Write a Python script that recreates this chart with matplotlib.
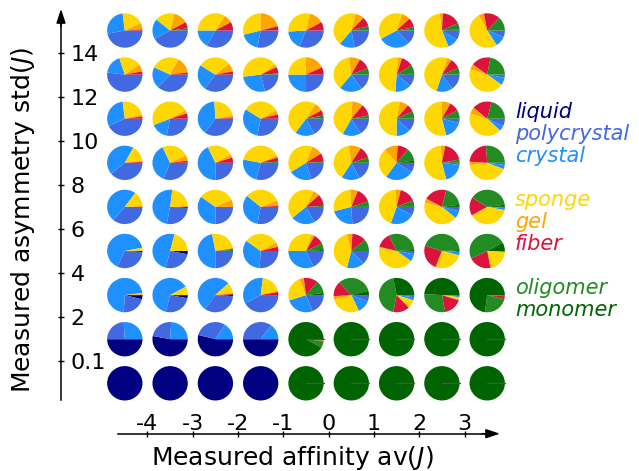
import numpy as np
import matplotlib.pyplot as plt

PHASES = ['liquid', 'polycrystal', 'crystal', 'sponge', 'gel', 'fiber', 'oligomer', 'monomer']
PHASE_COLORS = ['#000080', '#4169e1', '#1e90ff', '#ffd700', '#ffa500', '#dc143c', '#228b22', '#006400']

AFFINITY_TICKS = ['-4', '-3', '-2', '-1', '0', '1', '2', '3']
STD_TICKS = ['0.1', '2', '4', '6', '8', '10', '12', '14']

# phase fractions (liquid .. monomer), one pie per affinity bin, one list per std bin
STD_BELOW_01 = [[1, 0, 0, 0, 0, 0, 0, 0]] * 4 + [[0, 0, 0, 0, 0, 0, 0, 1]] * 5

STD_01_2 = [
    [.50, .24, .26, 0, 0, 0, 0, 0],
    [.53, .23, .24, 0, 0, 0, 0, 0],
    [.54, .30, .16, 0, 0, 0, 0, 0],
    [.50, .35, .15, 0, 0, 0, 0, 0],
    [0, 0, 0, .01, .005, .005, .06, .92],
    [0, 0, 0, 0, 0, 0, 0, 1],
    [0, 0, 0, 0, 0, 0, 0, 1],
    [0, 0, 0, 0, 0, 0, 0, 1],
    [0, 0, 0, 0, 0, 0, 0, 1],
]

STD_2_4 = [
    [.04, .22, .72, .01, .01, 0, 0, 0],
    [.03, .26, .63, .08, 0, 0, 0, 0],
    [.01, .34, .53, .10, .01, .01, 0, 0],
    [0, .42, .35, .19, .01, .03, 0, 0],
    [0, .19, .26, .24, .04, .13, .12, .02],
    [0, .06, .12, .28, .03, .14, .33, .04],
    [0, .02, .03, .07, .01, .15, .44, .28],
    [0, .01, .01, .02, .01, .17, .29, .49],
    [0, .01, 0, 0, 0, .03, .23, .73],
]

STD_4_6 = [
    [.01, .31, .65, .03, 0, 0, 0, 0],
    [.03, .26, .50, .21, 0, 0, 0, 0],
    [0, .25, .47, .25, .01, .01, .01, 0],
    [0, .26, .34, .32, .04, .04, 0, 0],
    [0, .18, .32, .30, .03, .10, .06, .01],
    [0, .13, .16, .42, .05, .13, .11, 0],
    [0, .03, .07, .43, .01, .14, .31, .01],
    [0, .01, .03, .26, .01, .24, .44, .01],
    [0, 0, .01, .20, .01, .21, .49, .08],
]

STD_6_8 = [
    [0, .36, .49, .14, .01, 0, 0, 0],
    [.01, .27, .49, .22, .01, 0, 0, 0],
    [0, .25, .35, .33, .07, 0, 0, 0],
    [0, .28, .33, .33, .05, .01, 0, 0],
    [0, .17, .22, .43, .06, .11, .01, 0],
    [0, .24, .22, .28, .07, .14, .05, 0],
    [0, .08, .22, .43, .05, .15, .06, 0],
    [0, .04, .07, .43, .04, .21, .19, .02],
    [0, .01, .02, .38, .01, .17, .39, .02],
]

STD_8_10 = [
    [0, .39, .44, .15, .01, .01, 0, 0],
    [0, .31, .37, .25, .05, .02, 0, 0],
    [0, .25, .43, .24, .03, .05, 0, 0],
    [0, .29, .24, .40, .02, .04, .01, 0],
    [0, .20, .21, .40, .10, .08, .01, 0],
    [0, .17, .17, .39, .11, .11, .05, 0],
    [0, .09, .26, .29, .12, .10, .12, .02],
    [0, .02, .19, .53, .04, .19, .03, 0],
    [0, .02, .04, .42, .03, .23, .26, 0],
]

STD_10_12 = [
    [0, .43, .30, .23, .02, .02, 0, 0],
    [0, .28, .16, .48, .03, .05, 0, 0],
    [0, .35, .39, .23, .02, .01, 0, 0],
    [0, .28, .31, .33, .04, .04, 0, 0],
    [0, .17, .18, .49, .08, .05, .03, 0],
    [0, .16, .17, .43, .10, .11, .03, 0],
    [0, .12, .13, .53, .08, .07, .07, 0],
    [0, .04, .17, .54, .08, .09, .08, 0],
    [0, .07, .05, .43, .06, .18, .21, 0],
]

STD_12_14 = [
    [0, .52, .18, .20, .07, .03, 0, 0],
    [0, .37, .20, .26, .15, .02, 0, 0],
    [0, .35, .24, .30, .08, .03, 0, 0],
    [0, .21, .27, .42, .03, .06, .01, 0],
    [0, .25, .25, .25, .18, .07, 0, 0],
    [0, .15, .21, .37, .10, .11, .06, 0],
    [0, .11, .15, .50, .04, .11, .08, .01],
    [0, .15, .15, .50, .04, .10, .06, 0],
    [0, .03, .07, .45, .05, .18, .22, 0],
]

STD_ABOVE_14 = [
    [0, .47, .26, .20, .06, .01, 0, 0],
    [0, .42, .19, .18, .13, .06, .02, 0],
    [0, .33, .17, .34, .08, .08, 0, 0],
    [0, .28, .18, .29, .21, .04, 0, 0],
    [0, .31, .18, .30, .13, .08, 0, 0],
    [0, .22, .14, .43, .08, .09, .04, 0],
    [0, .13, .29, .38, .08, .09, .03, 0],
    [0, .09, .10, .54, .03, .17, .06, .01],
    [0, .06, .10, .51, .05, .15, .13, 0],
]

GRID = [STD_BELOW_01, STD_01_2, STD_2_4, STD_4_6, STD_6_8,
        STD_8_10, STD_10_12, STD_12_14, STD_ABOVE_14]

# layout in pixels
W, H = 639, 471
COL_PX, ROW_PX = 45.3, 44.1
X0_PX, Y0_PX = 124.8, 87.7      # centre of the bottom-left pie (from left / from bottom)
RADIUS = 0.39


def px_x(px):
    return (px - X0_PX) / COL_PX


def px_y(py_top):
    return (H - py_top - Y0_PX) / ROW_PX


fig = plt.figure(figsize=(W / 100, H / 100), dpi=100)
ax = fig.add_axes([0, 0, 1, 1])

for j, row in enumerate(GRID):
    for i, frac in enumerate(row):
        vals = [v for v in frac if v > 0]
        cols = [c for v, c in zip(frac, PHASE_COLORS) if v > 0]
        ax.pie(vals, colors=cols, center=(i, j), radius=RADIUS, startangle=0,
               counterclock=False, frame=True,
               wedgeprops=dict(linewidth=0))
        if frac[-1] >= 0.9:
            ax.plot([i, i + RADIUS], [j, j], color='#505050', lw=0.9, zorder=5)

ax.set_aspect('auto')
ax.set_xlim(px_x(0), px_x(W))
ax.set_ylim(px_y(H), px_y(0))
ax.patch.set_alpha(0)

# axes with arrows
x_axis_y = px_y(433.7)
y_axis_x = px_x(61)
x_start, x_tip = px_x(118), px_x(500)
y_start, y_tip = px_y(400), px_y(9)

for s in ['left', 'bottom']:
    ax.spines[s].set_visible(False)
ax.spines['top'].set_position(('data', x_axis_y))
ax.spines['top'].set_bounds(x_start, x_tip - 0.2)
ax.spines['right'].set_position(('data', y_axis_x))
ax.spines['right'].set_bounds(y_start, y_tip - 0.2)
for s in ['top', 'right']:
    ax.spines[s].set_linewidth(1.1)

ax.xaxis.set_ticks_position('top')
ax.set_xticks(np.arange(len(AFFINITY_TICKS)) + 0.5, AFFINITY_TICKS)
ax.tick_params(axis='x', direction='inout', length=4, width=1, pad=-2, labelsize=16)
ax.yaxis.set_ticks_position('right')
ax.set_yticks(np.arange(len(STD_TICKS)) + 0.5, STD_TICKS)
ax.tick_params(axis='y', direction='inout', length=5, width=1, pad=4.5, labelsize=16)

head = dict(arrowstyle='-|>,head_length=0.6,head_width=0.2', color='black', lw=1.1,
            mutation_scale=14, shrinkA=0, shrinkB=0)
ax.annotate('', xy=(x_tip, x_axis_y), xytext=(x_tip - 0.4, x_axis_y),
            arrowprops=head, annotation_clip=False)
ax.annotate('', xy=(y_axis_x, y_tip), xytext=(y_axis_x, y_tip - 0.4),
            arrowprops=head, annotation_clip=False)

fig.text(292.5 / W, 6 / H, r'Measured affinity av($J$)', fontsize=18,
         ha='center', va='baseline')
fig.text(23 / W, 1 - 220 / H, r'Measured asymmetry std($J$)', fontsize=18,
         ha='center', va='center', rotation=90)

# phase legend
legend_baselines = [118, 140, 162, 206, 228, 250, 294, 316]
for name, color, yb in zip(PHASES, PHASE_COLORS, legend_baselines):
    fig.text(515 / W, 1 - yb / H, name, color=color, fontsize=15,
             fontstyle='italic', ha='left', va='baseline')

fig.savefig('out.png', dpi=100)
